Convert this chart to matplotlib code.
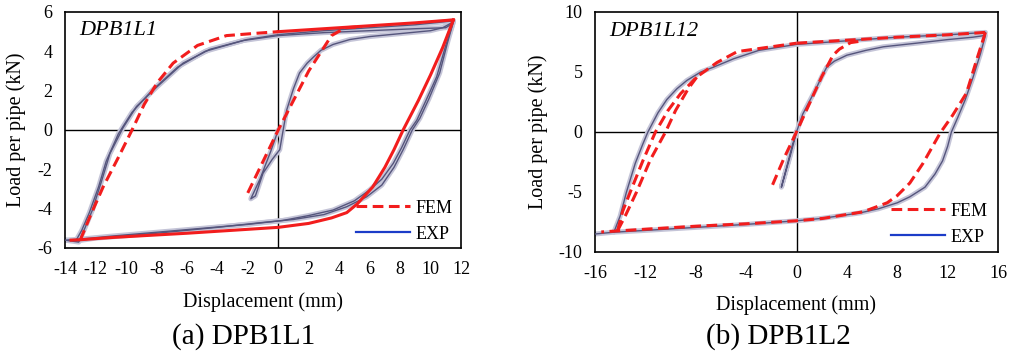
import matplotlib
matplotlib.use('Agg')
import matplotlib.pyplot as plt
from matplotlib.lines import Line2D

plt.rcParams['font.family'] = ['Liberation Serif', 'DejaVu Serif']
plt.rcParams['axes.unicode_minus'] = False

# ---- (a) DPB1L1 ----
# experimental hysteresis, traced as one path per cycle
exp_a1_x = [0, -0.5, -1.2, -1.8, -1.5, -1.0, -0.4, 0.1, 0.55, 1.0, 1.4, 1.9, 2.3, 2.8, 3.6, 4.7, 6.0, 8.0, 10.0, 10.8, 11.5,
            11.0, 10.4, 9.7, 9.1, 8.65, 8.1, 7.55, 6.8, 6.0, 5.0, 3.6, 2.0, 0.3, -2, -5, -8, -11, -13, -14,
            -13.1, -12.7, -12.2, -11.6, -11.05, -10.2, -9.3, -7.95, -6.25, -4.5, -2.05, 0, 3, 6, 9, 11.5]
exp_a1_y = [0, -1.1, -2.5, -3.5, -3.35, -2.2, -1.5, -1.0, 1.0, 2.1, 2.9, 3.4, 3.7, 4.05, 4.35, 4.6, 4.75, 4.9, 5.05, 5.2, 5.5,
            4.3, 2.7, 1.5, 0.5, 0.0, -0.9, -1.7, -2.5, -3.05, -3.6, -4.07, -4.35, -4.6, -4.8, -5.0, -5.2, -5.4, -5.55, -5.6,
            -5.7, -5.0, -4.07, -2.6, -1.2, 0.1, 1.2, 2.2, 3.4, 4.1, 4.6, 4.85, 5.05, 5.2, 5.35, 5.55]
exp_a2_x = [11.5, 11.1, 10.6, 9.9, 9.3, 8.8, 8.2, 7.6, 6.8, 5.8, 4.5, 3.0, 1.0, -1, -4, -8, -12, -13.3,
            -12.9, -12.4, -11.8, -11.3, -10.5, -9.6, -8.3, -6.6, -4.8, -2.3, 0, 3, 6, 9, 11, 11.4]
exp_a2_y = [5.5, 4.4, 2.9, 1.6, 0.6, 0.0, -1.0, -1.9, -2.8, -3.4, -3.9, -4.3, -4.55, -4.7, -4.95, -5.25, -5.5, -5.65,
            -5.1, -4.2, -2.9, -1.6, -0.2, 0.9, 2.0, 3.2, 4.0, 4.55, 4.8, 4.95, 5.05, 5.15, 5.2, 5.4]

# finite element result
fem_a_inner_x = [-2.0, -1.0, 0, 1.0, 2.0, 3.5, 4.4, 5.5]
fem_a_inner_y = [-3.2, -1.6, 0, 1.5, 3.0, 4.8, 5.2, 5.25]
fem_a_top_x = [0, 3, 6, 9, 11.5]
fem_a_top_y = [5.0, 5.15, 5.3, 5.45, 5.6]
fem_a_unload_x = [11.5, 10.8, 10.0, 9.2, 8.2, 7.6, 7.0, 6.2, 5.2, 4.5, 3.5, 2.0, 0, -3, -6, -9, -11, -13.0, -13.6]
fem_a_unload_y = [5.6, 4.2, 2.8, 1.5, 0.0, -1.0, -1.9, -2.9, -3.75, -4.2, -4.47, -4.75, -4.95, -5.1, -5.25, -5.38, -5.47, -5.58, -5.6]
fem_a_reload_x = [-13.0, -12.3, -11.5, -10.5, -9.6, -8.8, -7.95, -6.9, -5.3, -3.4, -1.4, 0]
fem_a_reload_y = [-5.6, -4.3, -2.9, -1.4, 0.0, 1.3, 2.4, 3.4, 4.3, 4.8, 4.92, 5.0]

# ---- (b) DPB1L2 ----
exp_b_x = [0, -0.5, -1.2, -1.0, -0.7, -0.3, 0, 0.5, 1.0, 1.5, 2.0, 2.4, 3.0, 4.0, 5.5, 6.9, 9.5, 12, 14, 15.0,
           14.6, 14.0, 13.4, 12.8, 12.3, 12.0, 11.6, 11.0, 10.2, 9.0, 8.0, 6.5, 5.0, 2.0, 0, -4, -8, -12, -14.5, -16]
exp_b_y = [0, -2.0, -4.6, -3.8, -2.6, -1.0, 0, 1.5, 2.5, 3.5, 4.6, 5.4, 5.9, 6.4, 6.8, 7.1, 7.4, 7.7, 7.9, 8.05,
           6.5, 4.5, 2.7, 1.2, 0.0, -1.2, -2.4, -3.5, -4.6, -5.4, -5.9, -6.4, -6.75, -7.2, -7.4, -7.7, -7.95, -8.2, -8.35, -8.5]
exp_b2_x = [-14.5, -14.0, -13.5, -12.8, -12.2, -11.8, -11.0, -10.3, -9.5, -8.7, -7.6, -6.6, -5.0, -3.0, 0, 4, 8, 12, 15.0]
exp_b2_y = [-8.35, -7.0, -5.0, -2.6, -1.0, 0.0, 1.6, 2.7, 3.6, 4.3, 5.0, 5.4, 6.1, 6.8, 7.3, 7.6, 7.9, 8.1, 8.3]

fem_b_inner_x = [-1.9, -1.0, 0, 1.0, 2.0, 2.9, 3.4, 4.3, 5.3]
fem_b_inner_y = [-4.4, -2.2, 0, 2.3, 4.6, 6.4, 6.9, 7.45, 7.6]
fem_b_top_x = [0, 4, 8, 12, 15.0]
fem_b_top_y = [7.4, 7.65, 7.9, 8.1, 8.3]
fem_b_unload_x = [15.0, 14.3, 13.5, 12.4, 11.4, 10.05, 9.0, 8.0, 7.2, 5.3, 2.1, 0, -4, -8, -12, -15.5]
fem_b_unload_y = [8.3, 6.0, 3.25, 1.4, -0.1, -2.6, -4.25, -5.3, -5.9, -6.65, -7.2, -7.4, -7.65, -7.85, -8.1, -8.33]
fem_b_reload1_x = [-14.2, -13.8, -13.2, -12.2, -11.2, -10.2, -9.2, -7.9, -6.3, -4.7, -2.0, 0]
fem_b_reload1_y = [-8.2, -6.6, -5.0, -2.4, 0.0, 1.8, 3.2, 4.6, 5.8, 6.7, 7.1, 7.4]
fem_b_reload2_x = [-14.2, -13.6, -12.7, -11.6, -10.4, -9.6, -8.6, -7.9]
fem_b_reload2_y = [-8.2, -7.0, -5.0, -2.3, 0.0, 1.8, 3.6, 4.6]

RED = '#f21d1d'
DASH = (3.5, 1.8)


def draw_exp(ax, x, y):
    # blurry scanned look: light wide band under a darker core
    ax.plot(x, y, color='#c5c5d8', lw=3.6, solid_capstyle='round', zorder=2)
    ax.plot(x, y, color='#55557c', lw=1.0, zorder=3)


def draw_fem(ax, x, y, dashed=True):
    if dashed:
        ax.plot(x, y, color=RED, lw=2.2, dashes=DASH, zorder=4)
    else:
        ax.plot(x, y, color=RED, lw=2.2, zorder=4)


def style(ax, xlim, xticks, ylim, yticks, tag, ylab_x, xlab_y, leg_anchor):
    ax.set_xlim(*xlim)
    ax.set_ylim(*ylim)
    ax.set_xticks(xticks)
    ax.set_yticks(yticks)
    ax.tick_params(length=0, labelsize=13, pad=9)
    ax.axhline(0, color='black', lw=1, zorder=1)
    ax.axvline(0, color='black', lw=1, zorder=1)
    for s in ax.spines.values():
        s.set_linewidth(1.2)
    ax.set_xlabel('Displacement (mm)', fontsize=14.5)
    ax.set_ylabel('Load per pipe (kN)', fontsize=14.5)
    ax.xaxis.set_label_coords(0.5, xlab_y)
    ax.yaxis.set_label_coords(ylab_x, 0.5)
    ax.text(0.035, 0.96, tag, transform=ax.transAxes, fontsize=16, style='italic', va='top', ha='left')
    handles = [Line2D([], [], color=RED, lw=2.2, dashes=DASH),
               Line2D([], [], color='#1c3cc8', lw=1.6)]
    ax.legend(handles, ['FEM', 'EXP'], loc='lower right', bbox_to_anchor=leg_anchor, frameon=False,
              fontsize=13, handlelength=3.0, handletextpad=0.3, labelspacing=0.5, borderaxespad=0.0)


fig = plt.figure(figsize=(10.09, 3.54), dpi=100)
ax1 = fig.add_axes([65 / 1009, 1 - 248 / 354, 396 / 1009, 236 / 354])
ax2 = fig.add_axes([595 / 1009, 1 - 252 / 354, 403 / 1009, 240 / 354])

draw_exp(ax1, exp_a1_x, exp_a1_y)
draw_exp(ax1, exp_a2_x, exp_a2_y)
draw_fem(ax1, fem_a_inner_x, fem_a_inner_y)
draw_fem(ax1, fem_a_top_x, fem_a_top_y, dashed=False)
draw_fem(ax1, fem_a_unload_x, fem_a_unload_y, dashed=False)
draw_fem(ax1, fem_a_reload_x, fem_a_reload_y)
style(ax1, (-14, 12), range(-14, 13, 2), (-6, 6), range(-6, 7, 2), 'DPB1L1', -0.098, -0.186,
      (1 - 1 / 396, -2 / 236))

draw_exp(ax2, exp_b_x, exp_b_y)
draw_exp(ax2, exp_b2_x, exp_b2_y)
draw_fem(ax2, fem_b_inner_x, fem_b_inner_y)
draw_fem(ax2, fem_b_top_x, fem_b_top_y)
draw_fem(ax2, fem_b_unload_x, fem_b_unload_y)
draw_fem(ax2, fem_b_reload1_x, fem_b_reload1_y)
draw_fem(ax2, fem_b_reload2_x, fem_b_reload2_y)
style(ax2, (-16, 16), range(-16, 17, 4), (-10, 10), range(-10, 11, 5), 'DPB1L12', -0.117, -0.18,
      (1 - 3 / 403, -1 / 240))

fig.text(244 / 1009, 1 - 337 / 354, '(a) DPB1L1', fontsize=21, ha='center', va='center')
fig.text(778 / 1009, 1 - 337 / 354, '(b) DPB1L2', fontsize=21, ha='center', va='center')

fig.savefig('out.png', dpi=100)
